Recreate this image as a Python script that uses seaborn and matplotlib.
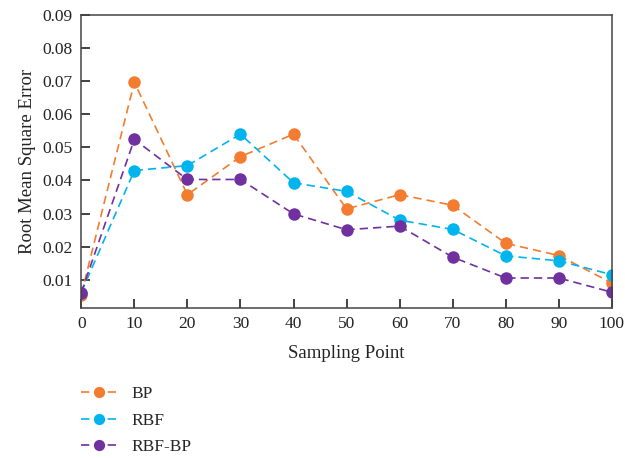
import pandas as pd
import matplotlib.pyplot as plt
import seaborn as sns

# Data
sampling_points = [0, 10, 20, 30, 40, 50, 60, 70, 80, 90, 100]
bp = [0.0055, 0.0697, 0.0357, 0.0472, 0.0540, 0.0314, 0.0357, 0.0325, 0.0210, 0.0173, 0.0090]
rbf = [0.0061, 0.0430, 0.0445, 0.0540, 0.0393, 0.0367, 0.0280, 0.0252, 0.0172, 0.0157, 0.0115]
rbf_bp = [0.0061, 0.0524, 0.0403, 0.0403, 0.0299, 0.0251, 0.0262, 0.0168, 0.0105, 0.0105, 0.0062]

methods = ["BP", "RBF", "RBF-BP"]
colors = {"BP": "#F47C30", "RBF": "#00B4EE", "RBF-BP": "#7030A0"}

df = pd.concat([
    pd.DataFrame({"point": sampling_points, "rmse": vals, "method": name})
    for name, vals in zip(methods, [bp, rbf, rbf_bp])
])

sns.set_style("white")
plt.rcParams["font.family"] = ["Liberation Serif", "DejaVu Serif"]
plt.rcParams["font.size"] = 12

fig = plt.figure(figsize=(6.25, 4.58), dpi=100)
ax = fig.add_axes([0.130, 0.328, 0.849, 0.639])

for name in methods:
    sub = df[df["method"] == name]
    sns.lineplot(data=sub, x="point", y="rmse", ax=ax, color=colors[name],
                 linestyle=(0, (5, 3)), linewidth=1.2, marker="o", markersize=9,
                 markeredgewidth=0, label=name, legend=False)

ax.set_xlim(0, 100)
ax.set_ylim(0.0015, 0.09)
ax.set_xticks(sampling_points)
ax.set_yticks([0.01, 0.02, 0.03, 0.04, 0.05, 0.06, 0.07, 0.08, 0.09])
ax.set_yticklabels([f"{v:.2f}" for v in ax.get_yticks()])
ax.tick_params(direction="in", length=6.5, width=1.2, colors="#222222",
               labelsize=12.5, left=True, bottom=True, top=False, right=False, pad=6)
for s in ax.spines.values():
    s.set_color("#444444")
    s.set_linewidth(1.1)
ax.set_xlabel("Sampling Point", fontsize=13.5, color="#222222", labelpad=9)
ax.set_ylabel("Root Mean Square Error", fontsize=13.5, color="#222222", labelpad=5)

handles, labels = ax.get_legend_handles_labels()
fig.legend(handles, labels, loc="upper left", bbox_to_anchor=(0.118, 0.172),
           frameon=False, fontsize=12.5, handlelength=2.1, handletextpad=0.8,
           labelspacing=0.6, borderaxespad=0, markerscale=0.9)

fig.savefig("out.png", dpi=100)
plt.close(fig)
